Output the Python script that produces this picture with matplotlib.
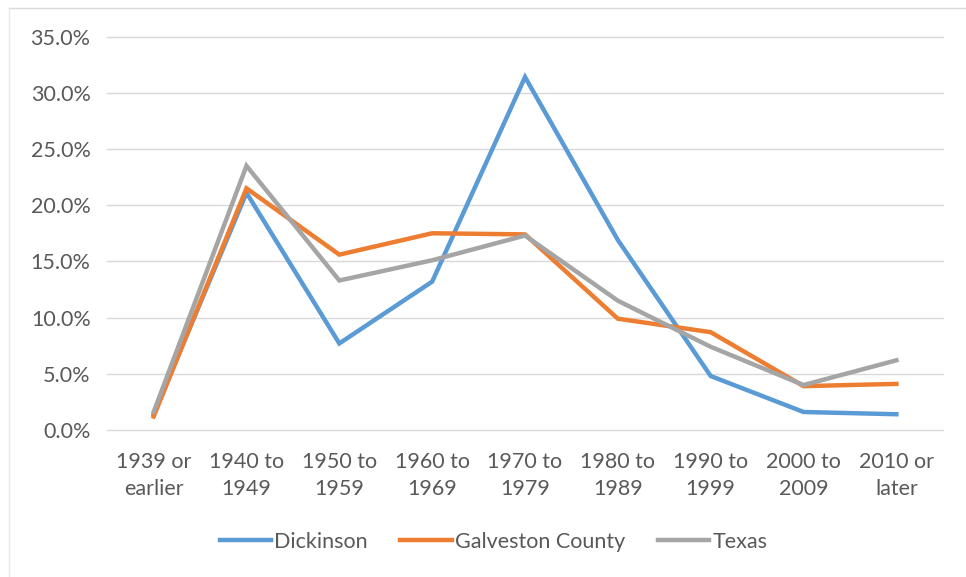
import matplotlib.pyplot as plt
from matplotlib.ticker import PercentFormatter
from matplotlib.lines import Line2D

periods = ["1939 or\nearlier", "1940 to\n1949", "1950 to\n1959", "1960 to\n1969",
           "1970 to\n1979", "1980 to\n1989", "1990 to\n1999", "2000 to\n2009",
           "2010 or\nlater"]
dickinson = [0.014, 0.211, 0.077, 0.132, 0.314, 0.169, 0.048, 0.016, 0.014]
galveston = [0.012, 0.215, 0.156, 0.175, 0.174, 0.099, 0.087, 0.039, 0.041]
texas = [0.016, 0.235, 0.133, 0.151, 0.173, 0.115, 0.074, 0.040, 0.062]

series = [("Dickinson", dickinson, "#5B9BD5"),
          ("Galveston County", galveston, "#ED7D31"),
          ("Texas", texas, "#A5A5A5")]

plt.rcParams['font.family'] = ['Lato', 'DejaVu Sans']
fs = 15.5

fig = plt.figure(figsize=(9.66, 5.77), dpi=100)
ax = fig.add_axes([0.111, 0.2548, 0.865, 0.6818])

x = range(len(periods))
for name, vals, col in series:
    ax.plot(x, vals, color=col, lw=3.2, label=name, solid_joinstyle='miter')

ax.set_xlim(-0.5, len(periods) - 0.5)
ax.set_ylim(0, 0.35)
ax.set_yticks([i * 0.05 for i in range(8)])
ax.yaxis.set_major_formatter(PercentFormatter(1, decimals=1))
ax.set_xticks(list(x))
ax.set_xticklabels(periods, linespacing=1.45)
ax.grid(axis='y', color='#D9D9D9', lw=1)
for gl in ax.get_ygridlines():
    gl.set_clip_on(False)
ax.set_axisbelow(True)
for s in ax.spines.values():
    s.set_visible(False)
ax.tick_params(axis='both', length=0, colors='#595959', labelsize=fs)
ax.tick_params(axis='y', pad=12)
ax.tick_params(axis='x', pad=16)

# chart area border
fig.add_artist(Line2D([9 / 966, 1], [1 - 8 / 577, 1 - 8 / 577],
                      transform=fig.transFigure, color='#D9D9D9', lw=1))
fig.add_artist(Line2D([9 / 966, 9 / 966], [0, 1 - 8 / 577],
                      transform=fig.transFigure, color='#E8E8E8', lw=1))

leg = fig.legend(loc='center', bbox_to_anchor=(0.511, 0.061), ncol=3,
                 frameon=False, fontsize=fs, handlelength=2.4,
                 handletextpad=0.15, columnspacing=1.5)
for t in leg.get_texts():
    t.set_color('#595959')

fig.savefig('out.png', dpi=100)
